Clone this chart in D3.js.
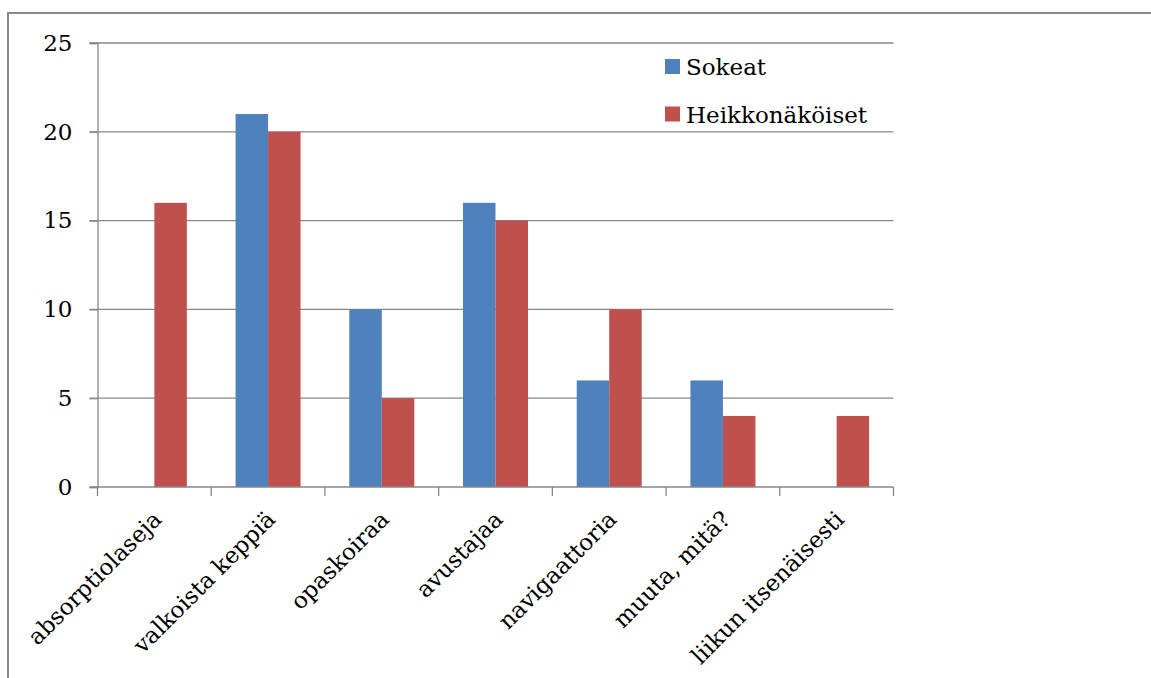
<!DOCTYPE html>
<html>
<head>
<meta charset="utf-8">
<script src="https://cdn.jsdelivr.net/npm/d3@7/dist/d3.min.js"></script>
<style>
  html, body { margin: 0; padding: 0; background: #fff; }
  svg { display: block; }
  text { font-family: "DejaVu Serif", serif; fill: #000; }
</style>
</head>
<body>
<svg id="chart" width="1151" height="678"></svg>
<script>
// Liikkumisen apuvälineet: sokeat ja heikkonäköiset
const categories = ["absorptiolaseja", "valkoista keppiä", "opaskoiraa", "avustajaa",
                    "navigaattoria", "muuta, mitä?", "liikun itsenäisesti"];
const seriesNames = ["Sokeat", "Heikkonäköiset"];
const sokeat = [0, 21, 10, 16, 6, 6, 0];
const heikkonakoiset = [16, 20, 5, 15, 10, 4, 4];
const yTicks = [0, 5, 10, 15, 20, 25];
const colors = ["#4F81BD", "#C0504D"];

const series = [sokeat, heikkonakoiset];
const svg = d3.select("#chart");
const gridColor = "#878787";

// outer frame (top and left edges)
svg.append("line").attr("x1", 8).attr("x2", 1151).attr("y1", 13).attr("y2", 13)
  .attr("stroke", "#8a8a8a").attr("stroke-width", 2);
svg.append("line").attr("x1", 8).attr("x2", 8).attr("y1", 12).attr("y2", 678)
  .attr("stroke", "#8a8a8a").attr("stroke-width", 2);

const plotLeft = 97.5, plotRight = 893.5, plotTop = 43, plotBottom = 487;

const x = d3.scaleBand().domain(categories).range([plotLeft, plotRight]).padding(0);
const xs = d3.scaleBand().domain(seriesNames).range([0, x.bandwidth()])
  .paddingInner(0).paddingOuter(0.75);
const y = d3.scaleLinear().domain([0, 25]).range([plotBottom, plotTop]);

// horizontal gridlines
svg.append("g").selectAll("line").data(yTicks.filter(d => d > 0)).join("line")
  .attr("x1", plotLeft - 8).attr("x2", plotRight)
  .attr("y1", d => y(d)).attr("y2", d => y(d))
  .attr("stroke", gridColor).attr("stroke-width", 1.3);

// bars
const groups = svg.append("g").selectAll("g").data(categories).join("g")
  .attr("transform", c => `translate(${x(c)},0)`);
groups.selectAll("rect")
  .data((c, i) => seriesNames.map((s, k) => ({ s, k, v: series[k][i] })))
  .join("rect")
  .attr("x", d => xs(d.s))
  .attr("width", xs.bandwidth())
  .attr("y", d => y(d.v))
  .attr("height", d => y(0) - y(d.v))
  .attr("fill", d => colors[d.k]);

// y axis
const yAxis = d3.axisLeft(y).tickValues(yTicks).tickSize(8).tickPadding(17);
const gy = svg.append("g").attr("transform", `translate(${plotLeft},0)`).call(yAxis);
gy.select(".domain").attr("stroke", gridColor).attr("stroke-width", 1.3);
gy.selectAll(".tick line").attr("stroke", gridColor).attr("stroke-width", 1.3);
gy.selectAll(".tick text").attr("font-size", 23).attr("font-family", "DejaVu Serif");

// x axis: boundaries between categories carry tick marks
const boundaries = categories.map(c => x(c)).concat([plotRight]);
svg.append("line").attr("x1", plotLeft - 8).attr("x2", plotRight)
  .attr("y1", plotBottom).attr("y2", plotBottom)
  .attr("stroke", gridColor).attr("stroke-width", 1.3);
svg.append("g").selectAll("line").data(boundaries).join("line")
  .attr("x1", d => d).attr("x2", d => d)
  .attr("y1", plotBottom).attr("y2", plotBottom + 9)
  .attr("stroke", gridColor).attr("stroke-width", 1.3);

// rotated category labels
svg.append("g").selectAll("text").data(categories).join("text")
  .attr("transform", c => `translate(${x(c) + x.bandwidth() / 2 + 3},515) rotate(-45)`)
  .attr("text-anchor", "end")
  .attr("dy", "0.35em")
  .attr("font-size", 23)
  .text(c => c);

// legend
const legend = svg.append("g").selectAll("g").data(seriesNames).join("g")
  .attr("transform", (s, i) => `translate(665,${59 + i * 47.5})`);
legend.append("rect").attr("width", 15).attr("height", 15)
  .attr("fill", (s, i) => colors[i]);
legend.append("text").attr("x", 21).attr("y", 16)
  .attr("font-size", 23).text(s => s);
</script>
</body>
</html>
